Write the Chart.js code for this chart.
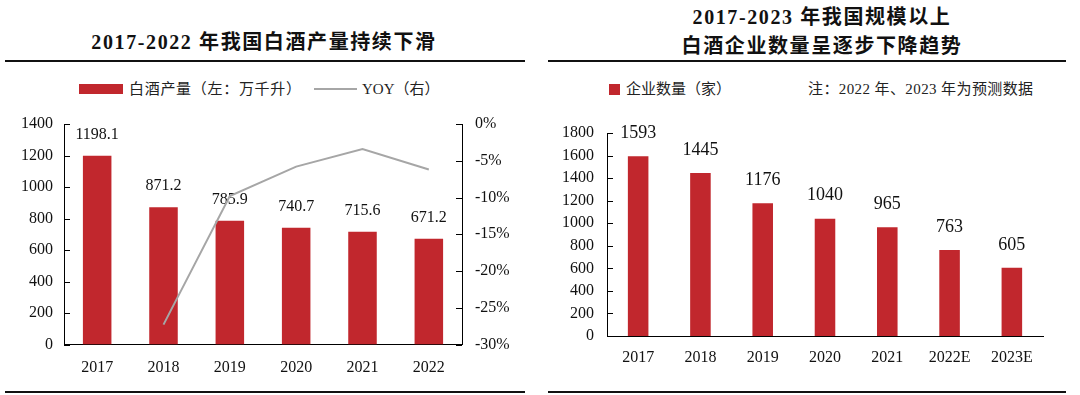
<!DOCTYPE html>
<html>
<head>
<meta charset="utf-8">
<script src="https://cdn.jsdelivr.net/npm/chart.js@4/dist/chart.umd.min.js"></script>
<style>
  html, body { margin: 0; padding: 0; background: #fff; }
  body { width: 1080px; height: 395px; position: relative; overflow: hidden; }
  .title {
    position: absolute; font-family: "Liberation Serif", "Noto Sans CJK SC", serif;
    font-weight: bold; font-size: 20px; letter-spacing: 1.6px; color: #111;
    white-space: nowrap; transform: translate(-50%, -50%); line-height: 1;
  }
  .rule { position: absolute; height: 2px; background: #111; }
  .leg {
    position: absolute; font-family: "Liberation Serif", "Noto Sans CJK SC", serif;
    font-size: 15px; color: #222; white-space: nowrap; line-height: 1;
    transform: translateY(-50%);
  }
  .box { position: absolute; background: #C1272D; }
  .ln { position: absolute; height: 2px; background: #A6A6A6; }
  canvas { position: absolute; }
</style>
</head>
<body>
<div class="title" style="left:264px; top:42px;">2017-2022 年我国白酒产量持续下滑</div>
<div class="rule" style="left:5px; top:60px; width:520px;"></div>
<div class="box" style="left:79px; top:84px; width:44px; height:10px;"></div>
<div class="leg" style="left:129px; top:89px; letter-spacing:0.7px;">白酒产量（左：万千升）</div>
<div class="ln" style="left:314px; top:88px; width:43px;"></div>
<div class="leg" style="left:362px; top:89px;">YOY（右）</div>

<div class="title" style="left:822px; top:17px;">2017-2023 年我国规模以上</div>
<div class="title" style="left:822px; top:46px;">白酒企业数量呈逐步下降趋势</div>
<div class="rule" style="left:548px; top:60px; width:518px;"></div>
<div class="box" style="left:609px; top:84px; width:11px; height:11px;"></div>
<div class="leg" style="left:626px; top:89px;">企业数量（家）</div>
<div class="leg" style="left:808px; top:89px; letter-spacing:0.4px;">注：2022 年、2023 年为预测数据</div>

<div class="rule" style="left:5px; top:391px; width:520px;"></div>
<div class="rule" style="left:548px; top:391px; width:518px;"></div>

<canvas id="chartLeft" width="520" height="290" style="left:0; top:100px;"></canvas>
<canvas id="chartRight" width="540" height="290" style="left:540px; top:100px;"></canvas>

<script>
// données
const annees1 = ['2017', '2018', '2019', '2020', '2021', '2022'];
const production = [1198.1, 871.2, 785.9, 740.7, 715.6, 671.2];
const yoy = [null, -27.3, -9.8, -5.8, -3.4, -6.2];

const annees2 = ['2017', '2018', '2019', '2020', '2021', '2022E', '2023E'];
const entreprises = [1593, 1445, 1176, 1040, 965, 763, 605];

const ROUGE = '#C1272D';
const GRIS = '#A6A6A6';
const serif = 'Liberation Serif';

// étiquettes au-dessus des barres (dessinées avant la ligne)
function etiquettes(decalage, taille) {
    return {
        id: 'etiquettes',
        afterDatasetDraw(chart, args) {
            if (args.index !== 0) return;
            const c = chart.ctx;
            const valeurs = chart.data.datasets[0].data;
            c.save();
            c.font = taille + 'px "' + serif + '"';
            c.fillStyle = '#111';
            c.textAlign = 'center';
            c.textBaseline = 'middle';
            args.meta.data.forEach((barre, i) => {
                c.fillText(String(valeurs[i]), barre.x, barre.y - decalage);
            });
            c.restore();
        }
    };
}

// petites graduations tournées vers l'intérieur
function graduations(ids) {
    return {
        id: 'graduations',
        afterDraw(chart) {
            const c = chart.ctx;
            c.save();
            c.strokeStyle = '#000';
            c.lineWidth = 1;
            ids.forEach(id => {
                const s = chart.scales[id];
                const gauche = s.position === 'left';
                const x0 = gauche ? s.right : s.left;
                const sens = gauche ? 1 : -1;
                s.ticks.forEach(t => {
                    const y = Math.round(s.getPixelForValue(t.value)) + 0.5;
                    c.beginPath();
                    c.moveTo(x0, y);
                    c.lineTo(x0 + sens * 6, y);
                    c.stroke();
                });
            });
            c.restore();
        }
    };
}

const police = { family: serif, size: 16 };
const bordure = { display: true, color: '#000', width: 1 };
const sansGrille = { display: false, drawTicks: false };

new Chart(document.getElementById('chartLeft'), {
    type: 'bar',
    data: {
        labels: annees1,
        datasets: [{
            type: 'bar',
            label: '白酒产量（左：万千升）',
            data: production,
            backgroundColor: ROUGE,
            yAxisID: 'y',
            order: 1,
            categoryPercentage: 1,
            barPercentage: 0.43
        }, {
            type: 'line',
            label: 'YOY（右）',
            data: yoy,
            borderColor: GRIS,
            borderWidth: 2,
            pointRadius: 0,
            tension: 0,
            yAxisID: 'y1',
            order: 0
        }]
    },
    options: {
        responsive: false,
        devicePixelRatio: 1,
        animation: false,
        layout: { padding: { top: 24, left: 0, right: 0, bottom: 0 } },
        plugins: { legend: { display: false }, tooltip: { enabled: false } },
        scales: {
            x: {
                grid: sansGrille,
                border: bordure,
                ticks: { color: '#111', font: police, padding: 14 },
                afterFit(s) { s.height = 45.5; }
            },
            y: {
                position: 'left',
                min: 0,
                max: 1400,
                grid: sansGrille,
                border: bordure,
                ticks: { stepSize: 200, color: '#111', font: police, padding: 11, callback: v => String(v) },
                afterFit(s) { s.width = 64; }
            },
            y1: {
                position: 'right',
                min: -30,
                max: 0,
                grid: sansGrille,
                border: bordure,
                ticks: { stepSize: 5, color: '#111', font: police, padding: 13, callback: v => v + '%' },
                afterFit(s) { s.width = 58; }
            }
        }
    },
    plugins: [etiquettes(21, 16), graduations(['y', 'y1'])]
});

new Chart(document.getElementById('chartRight'), {
    type: 'bar',
    data: {
        labels: annees2,
        datasets: [{
            label: '企业数量（家）',
            data: entreprises,
            backgroundColor: ROUGE,
            categoryPercentage: 1,
            barPercentage: 0.33
        }]
    },
    options: {
        responsive: false,
        devicePixelRatio: 1,
        animation: false,
        layout: { padding: { top: 33, left: 0, right: 37, bottom: 0 } },
        plugins: { legend: { display: false }, tooltip: { enabled: false } },
        scales: {
            x: {
                grid: sansGrille,
                border: bordure,
                ticks: { color: '#111', font: police, padding: 12 },
                afterFit(s) { s.height = 54; }
            },
            y: {
                position: 'left',
                min: 0,
                max: 1800,
                grid: sansGrille,
                border: bordure,
                ticks: { stepSize: 200, color: '#111', font: police, padding: 13, callback: v => String(v) },
                afterFit(s) { s.width = 67; }
            }
        }
    },
    plugins: [etiquettes(23, 18), graduations(['y'])]
});
</script>
</body>
</html>
